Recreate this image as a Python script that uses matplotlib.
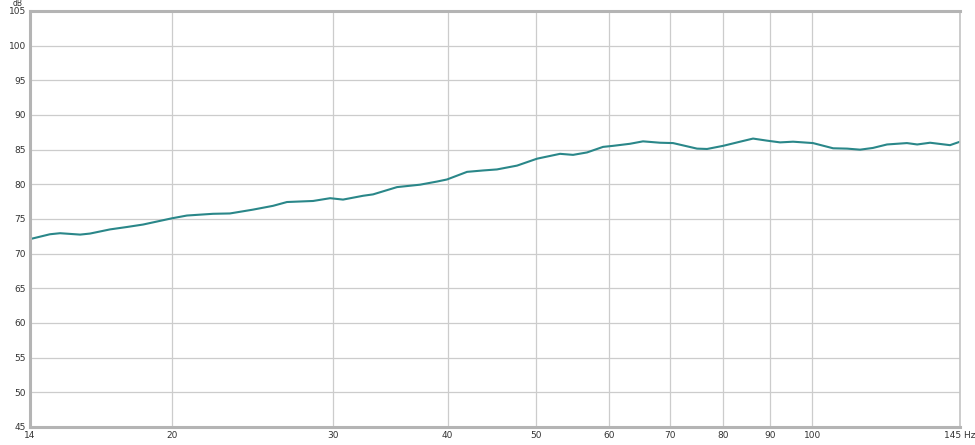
import matplotlib
matplotlib.use("Agg")
import matplotlib.pyplot as plt
from matplotlib.ticker import FixedLocator, NullLocator

freq_hz = [14.0, 14.72, 15.10, 15.88, 16.28, 17.12, 17.87, 18.60, 20.0, 20.77,
           22.18, 23.14, 24.52, 25.79, 26.71, 28.52, 29.77, 30.75, 32.34, 33.16,
           35.22, 37.32, 38.94, 39.93, 42.0, 43.72, 45.28, 47.62, 50.08, 53.06,
           54.82, 56.78, 59.11, 60.61, 63.26, 65.36, 68.22, 70.49, 74.87, 76.78,
           79.93, 83.42, 86.19, 89.28, 92.25, 95.31, 100.2, 105.4, 109.2, 112.8,
           116.5, 120.7, 126.9, 130.2, 134.5, 141.4, 145.0]
spl_db = [72.1, 72.8, 72.95, 72.75, 72.9, 73.5, 73.85, 74.2, 75.1, 75.5,
          75.75, 75.8, 76.35, 76.9, 77.45, 77.6, 78.0, 77.8, 78.35, 78.55,
          79.6, 79.95, 80.4, 80.7, 81.8, 82.0, 82.15, 82.7, 83.7, 84.4,
          84.25, 84.6, 85.4, 85.55, 85.85, 86.2, 86.0, 85.95, 85.15, 85.1,
          85.55, 86.15, 86.6, 86.3, 86.05, 86.15, 85.95, 85.2, 85.15, 85.0,
          85.25, 85.75, 85.95, 85.75, 86.0, 85.65, 86.15]

x_ticks = [14, 20, 30, 40, 50, 60, 70, 80, 90, 100, 145]
x_tick_labels = ["14", "20", "30", "40", "50", "60", "70", "80", "90", "100", "145 Hz"]
y_ticks = list(range(45, 106, 5))

fig = plt.figure(figsize=(9.75, 4.45), dpi=100)
W, H = 975, 445
left, right, top, bottom = 30, 960, 11, 427
ax = fig.add_axes([left / W, (H - bottom) / H, (right - left) / W, (bottom - top) / H])

ax.set_xscale("log")
ax.set_xlim(14, 145)
ax.set_ylim(45, 105)

ax.xaxis.set_major_locator(FixedLocator(x_ticks))
ax.xaxis.set_minor_locator(NullLocator())
ax.set_xticklabels(x_tick_labels)
ax.set_yticks(y_ticks)
ax.set_yticklabels([str(v) for v in y_ticks])

ax.grid(True, which="major", color="#cccccc", linewidth=0.9)
ax.set_axisbelow(True)
ax.tick_params(axis="both", length=0, labelsize=6.5, colors="#333333", pad=3)

for side in ["left", "bottom", "top"]:
    ax.spines[side].set_color("#b4b4b4")
    ax.spines[side].set_linewidth(2.2)
ax.spines["right"].set_color("#c4c4c4")
ax.spines["right"].set_linewidth(1.2)

ax.plot(freq_hz, spl_db, color="#2a8789", linewidth=1.5, solid_joinstyle="round")

fig.text(18 / W, 1 - 3 / H, "dB", fontsize=5.5, color="#333333", ha="center", va="center")

fig.savefig("out.png", dpi=100, facecolor="white")
